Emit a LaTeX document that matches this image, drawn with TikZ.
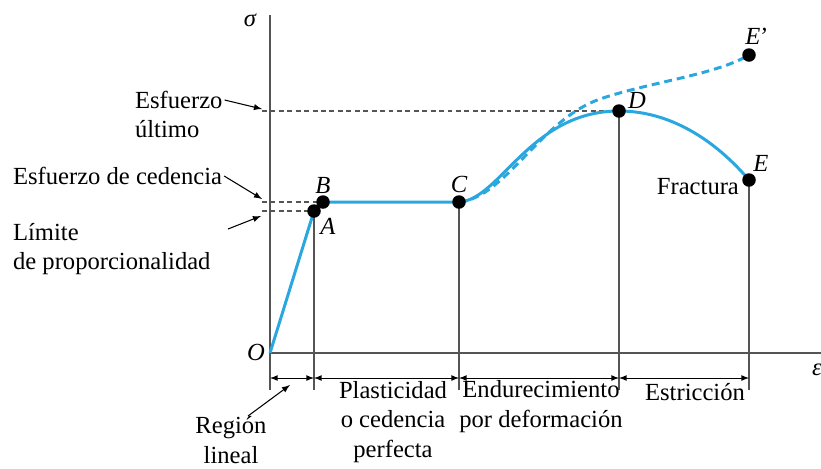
\documentclass[tikz,border=0pt]{standalone}
\usepackage{fontspec}
\setmainfont{Liberation Serif}
\usetikzlibrary{arrows}
\definecolor{curveblue}{HTML}{2AA7DF}
\definecolor{linegray}{HTML}{555555}
\tikzset{lbl/.style={font=\fontsize{14}{17}\selectfont, inner sep=1pt}}
\tikzset{it/.style={font=\fontsize{14}{17}\selectfont\itshape, inner sep=1pt}}
\tikzset{pt/.style={circle, fill=black, inner sep=0pt, minimum size=0.27cm}}
\tikzset{ext/.style={draw=linegray, line width=0.6pt}}
\tikzset{guide/.style={draw=linegray, line width=0.6pt, dash pattern=on 2.8pt off 2pt}}
\tikzset{dim/.style={latex-latex, line width=0.5pt}}
\tikzset{note/.style={-latex, line width=0.6pt}}
\tikzset{law/.style={draw=curveblue, line width=1.7pt}}

\begin{document}
\begin{tikzpicture}[x=0.02cm, y=-0.02cm]
    \useasboundingbox (0,0) rectangle (821,468);
    % points of the curve
    \coordinate (O) at (270,353);
    \coordinate (A) at (314,211);
    \coordinate (B) at (323,202);
    \coordinate (C) at (459,202);
    \coordinate (D) at (619,111);
    \coordinate (E) at (749,180);
    \coordinate (Ep) at (749,55);
    \coordinate (top) at (270,15);
    \coordinate (right) at (830,353);
    \coordinate (lo) at (270,390);
    \coordinate (dm) at (270,378);

    % axes and extension lines
    \draw[ext, line width=0.9pt] (lo) -- (top);
    \draw[ext, line width=0.9pt] (O) -- (right);
    \foreach \p in {A,C,D,E} \draw[ext] (\p) -- (\p |- lo);

    % regions
    \draw[dim] (dm) -- (A |- dm);
    \draw[dim] (A |- dm) -- (C |- dm);
    \draw[dim] (C |- dm) -- (D |- dm);
    \draw[dim] (D |- dm) -- (E |- dm);

    % dashed levels
    \coordinate (gD) at (262,111);
    \coordinate (gB) at (262,202);
    \coordinate (gA) at (262,211);
    \draw[guide] (gD) -- (D);
    \draw[guide] (gB) -- (B);
    \draw[guide] (gA) -- (A);

    % stress-strain curve
    \draw[law] (O) -- (A) -- (B) -- (C)
      .. controls (500,200) and (530,111) .. (D)
      .. controls (670,111) and (715,140) .. (E);
    \draw[law, dash pattern=on 4.5pt off 2.8pt] (C)
      .. controls (505,198) and (540,120) .. (600,99)
      .. controls (650,82) and (715,75) .. (Ep);
    \foreach \p in {A,B,C,D,E,Ep} \node[pt] (d\p) at (\p) {};

    % letters
    \node[it] (sigma) at (250,20) {σ};
    \node[it] (lO) at (256,352) {O};
    \node[it] (lA) at (328,226) {A};
    \node[it] (lB) at (323,185) {B};
    \node[it] (lC) at (459,184) {C};
    \node[it] (lD) at (637,100) {D};
    \node[it] (lE) at (761,163) {E};
    \node[it] (lEp) at (756,36) {E\kern-1pt’};
    \node[it] (eps) at (817,370) {ε};

    % texts
    \node[lbl, anchor=west] (esf) at (133,100) {Esfuerzo};
    \node[lbl, anchor=west] (ult) at (133,129) {último};
    \node[lbl, anchor=west] (ced) at (11,176) {Esfuerzo de cedencia};
    \node[lbl, anchor=west, align=left] (lim) at (11,249) {Límite\\de proporcionalidad};
    \node[lbl, align=center] (reg) at (231,440) {Región\\lineal};
    \node[lbl, align=center] (plas) at (393,422) {Plasticidad\\o cedencia\\perfecta};
    \node[lbl, align=center] (endu) at (541,407) {Endurecimiento\\por deformación};
    \node[lbl] (estr) at (695,392) {Estricción};
    \node[lbl, anchor=east] (frac) at (741,187) {Fractura};

    % pointers
    \coordinate (hUlt) at (262,109);
    \coordinate (hCed) at (262,199);
    \coordinate (tLim) at (228,229);
    \coordinate (hLim) at (261,216);
    \coordinate (tReg) at (248,416);
    \coordinate (hReg) at (290,385);
    \draw[note] (esf.east) -- (hUlt);
    \draw[note] (ced.east) -- (hCed);
    \draw[note] (tLim) -- (hLim);
    \draw[note] (tReg) -- (hReg);
\end{tikzpicture}
\end{document}
